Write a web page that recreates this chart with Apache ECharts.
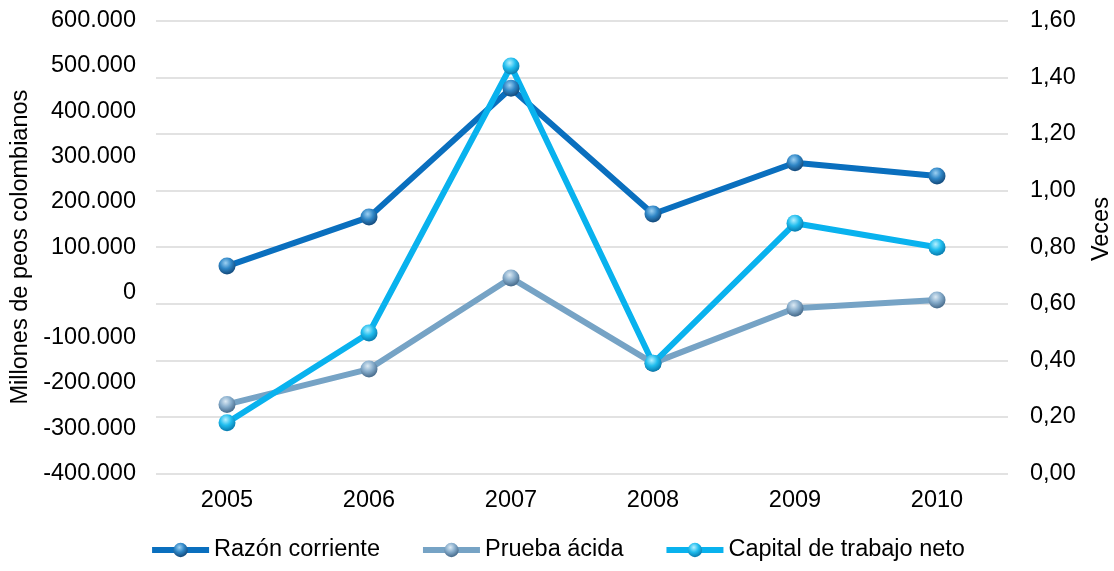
<!DOCTYPE html>
<html>
<head>
<meta charset="utf-8">
<script src="https://cdn.jsdelivr.net/npm/echarts@6/dist/echarts.min.js"></script>
<style>
  html, body { margin: 0; padding: 0; background: #fff; }
  #chart { width: 1114px; height: 571px; }
</style>
</head>
<body>
<div id="chart"></div>
<script>
// Years on the category axis
const years = ['2005', '2006', '2007', '2008', '2009', '2010'];

// Ratios (right axis, "Veces")
const razonCorriente = [0.733, 0.906, 1.361, 0.917, 1.098, 1.051];
const pruebaAcida = [0.244, 0.369, 0.691, 0.390, 0.584, 0.613];

// Net working capital (left axis, millions of COP)
const capitalTrabajo = [-287800, -89700, 500000, -156600, 152600, 99600];

// Axis ranges
const leftMin = -400000, leftMax = 600000, leftStep = 100000;
const rightMin = 0, rightMax = 1.6, rightStep = 0.2;

const FONT = 'Liberation Sans, Arial, sans-serif';
const FS = 23.5;

function sphere(light, base, dark) {
  return {
    type: 'radial', x: 0.42, y: 0.32, r: 0.75,
    colorStops: [
      { offset: 0, color: light },
      { offset: 0.45, color: base },
      { offset: 0.85, color: dark },
      { offset: 1, color: dark }
    ]
  };
}

function thousands(v) {
  if (v === 0) return '0';
  const s = Math.abs(v).toString().replace(/\B(?=(\d{3})+(?!\d))/g, '.');
  return (v < 0 ? '-' : '') + s;
}

const chart = echarts.init(document.getElementById('chart'), null, { renderer: 'canvas' });

const seriesDefs = [
  { name: 'Razón corriente', data: razonCorriente, axis: 1, line: '#0A6FBE',
    fill: sphere('#9CD0F2', '#2F86C6', '#164F82') },
  { name: 'Prueba ácida', data: pruebaAcida, axis: 1, line: '#76A3C5',
    fill: sphere('#DCEAF4', '#86ACCB', '#4D7191') },
  { name: 'Capital de trabajo neto', data: capitalTrabajo, axis: 0, line: '#09B2EE',
    fill: sphere('#B5F0FF', '#20BDEE', '#0A82B5') }
];

chart.setOption({
  animation: false,
  backgroundColor: '#ffffff',
  textStyle: { fontFamily: FONT },
  grid: { left: 156, right: 106, top: 20.7, bottom: 97.5, containLabel: false, outerBoundsMode: 'none' },
  legend: {
    bottom: 4,
    left: 'center',
    itemWidth: 57,
    itemHeight: 18,
    itemGap: 40,
    lineStyle: { width: 6 },
    textStyle: { fontFamily: FONT, fontSize: FS, color: '#000' },
    data: seriesDefs.map(s => s.name)
  },
  xAxis: {
    type: 'category',
    data: years,
    boundaryGap: true,
    axisLine: { show: false },
    axisTick: { show: false },
    splitLine: { show: false },
    axisLabel: { fontFamily: FONT, fontSize: FS, color: '#000', margin: 15 }
  },
  yAxis: [
    {
      type: 'value',
      position: 'left',
      min: leftMin, max: leftMax, interval: leftStep,
      name: 'Millones de peos colombianos',
      nameLocation: 'middle',
      nameRotate: 90,
      nameGap: 123,
      nameTextStyle: { fontFamily: FONT, fontSize: FS, color: '#000' },
      axisLine: { show: false },
      axisTick: { show: false },
      splitLine: { show: false },
      axisLabel: { fontFamily: FONT, fontSize: FS, color: '#000', margin: 20,
        formatter: v => thousands(v) }
    },
    {
      type: 'value',
      position: 'right',
      min: rightMin, max: rightMax, interval: rightStep,
      name: 'Veces',
      nameLocation: 'middle',
      nameRotate: 90,
      nameGap: 82,
      nameTextStyle: { fontFamily: FONT, fontSize: FS, color: '#000', padding: [0, 0, 0, 36] },
      axisLine: { show: false },
      axisTick: { show: false },
      splitLine: { show: true, lineStyle: { color: '#D9D9D9', width: 1.5 } },
      axisLabel: { fontFamily: FONT, fontSize: FS, color: '#000', margin: 22,
        formatter: v => v.toFixed(2).replace('.', ',') }
    }
  ],
  series: seriesDefs.map(s => ({
    name: s.name,
    type: 'line',
    yAxisIndex: s.axis,
    data: s.data,
    symbol: 'circle',
    symbolSize: 17,
    lineStyle: { color: s.line, width: 6 },
    itemStyle: { color: s.fill, borderWidth: 0 },
    emphasis: { disabled: true }
  }))
});
</script>
</body>
</html>
